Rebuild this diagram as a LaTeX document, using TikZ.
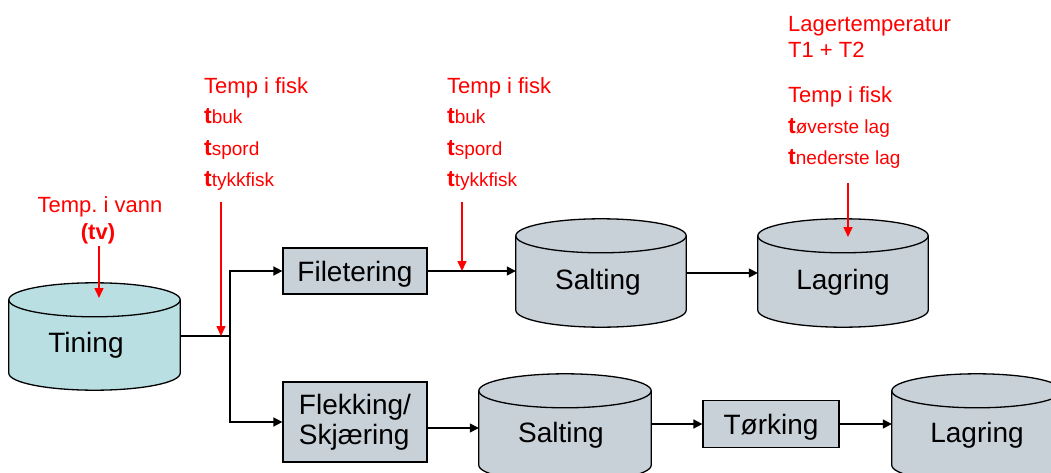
\documentclass[tikz,border=0pt]{standalone}
\usepackage{fontspec}
\setmainfont{Liberation Sans}
\usetikzlibrary{arrows.meta,calc}
\pgfdeclarelayer{background}
\pgfsetlayers{background,main}
\definecolor{boxgray}{RGB}{200,208,216}
\definecolor{tincyan}{RGB}{185,223,227}
\newcommand\cylshape[2]{%
  \path[draw=black,line width=1.3pt,fill=#2]
    let \p1=(#1.north west), \p2=(#1.south east), \n1={(\x2-\x1)/2} in
    (\x1,\y1-17pt) -- (\x1,\y2+17pt)
    arc[start angle=180,end angle=360,x radius=\n1,y radius=17pt]
    -- (\x2,\y1-17pt)
    arc[start angle=0,end angle=180,x radius=\n1,y radius=17pt] -- cycle;
  \path[draw=black,line width=1.3pt]
    let \p1=(#1.north west), \p2=(#1.south east), \n1={(\x2-\x1)/2} in
    (\x2,\y1-17pt)
    arc[start angle=0,end angle=-180,x radius=\n1,y radius=17pt];
}
\newcommand\tb{{\fontsize{23}{26}\selectfont\bfseries t}}
\newcommand\sm[1]{{\fontsize{19}{22}\selectfont #1}}
\begin{document}
\begin{tikzpicture}[x=1pt,y=-1pt,
  cylnode/.style={inner sep=0pt,font=\fontsize{28}{30}\selectfont,text depth=0pt},
  procbox/.style={draw=black,line width=1.2pt,fill=boxgray,inner sep=0pt,font=\fontsize{28}{30}\selectfont},
  conn/.style={line width=1.5pt,-{Triangle[length=9pt,width=9pt]}},
  plain/.style={line width=1.5pt},
  redarr/.style={red,line width=1.5pt,-{Triangle[length=10pt,width=9pt]}},
  redtxt/.style={text=red,anchor=base west,inner sep=0pt,font=\fontsize{22}{26}\selectfont},
  redc/.style={text=red,anchor=base,inner sep=0pt,font=\fontsize{22}{26}\selectfont}]
\useasboundingbox (0,0) rectangle (1051,473);

% cylinders (invisible frames carrying the text)
\node[cylnode,minimum width=171pt,minimum height=107pt,text height=31pt] (tin) at (94.5,336.5) {Tining\hspace*{17pt}};
\node[cylnode,minimum width=170pt,minimum height=108pt,text height=32pt] (sal1) at (601,273) {Salting\hspace*{6pt}};
\node[cylnode,minimum width=170pt,minimum height=108pt,text height=32pt] (lag1) at (843,273) {Lagring};
\node[cylnode,minimum width=172pt,minimum height=108pt,text height=28pt] (sal2) at (565,428) {Salting\hspace*{8pt}};
\node[cylnode,minimum width=170pt,minimum height=108pt,text height=28pt] (lag2) at (977,428) {Lagring};

% process boxes
\node[procbox,minimum width=144pt,minimum height=46pt,text height=20pt,text depth=0pt] (fil) at (355,271) {Filetering};
\node[procbox,minimum width=144pt,minimum height=80pt,align=left] (fle) at (355,422) {Flekking/\\Skjæring};
\node[procbox,minimum width=136pt,minimum height=47pt,text height=20pt,text depth=0pt] (tor) at (771,424) {Tørking};

\begin{pgfonlayer}{background}
\cylshape{tin}{tincyan}
\cylshape{sal1}{boxgray}
\cylshape{lag1}{boxgray}
\cylshape{sal2}{boxgray}
\cylshape{lag2}{boxgray}
\end{pgfonlayer}

% connectors
\coordinate (jn) at (230,336);
\draw[plain] (tin.east |- jn) -- (jn);
\draw[conn] (jn) |- (fil.west);
\draw[conn] (jn) |- (fle.west);
\draw[conn] (fil.east) -- (fil.east -| sal1.west);
\draw[conn] (sal1.east) -- (lag1.west);
\draw[conn] (fle.east |- sal2.west) -- (sal2.west);
\draw[conn] (sal2.east |- tor.west) -- (tor.west);
\draw[conn] (tor.east) -- (tor.east -| lag2.west);

% red labels
\node[redc] (tv1) at (100,212) {Temp.\ i vann};
\node[redc,font=\fontsize{22}{26}\selectfont\bfseries] (tv2) at (98,239) {(tv)};

\node[redtxt] (a1) at (204,94) {Temp i fisk};
\node[redtxt] (a2) at (204,124) {\tb\sm{buk}};
\node[redtxt] (a3) at (204,156) {\tb\sm{spord}};
\node[redtxt] (a4) at (204,186) {\tb\sm{tykkfisk}};

\node[redtxt] (b1) at (447,94) {Temp i fisk};
\node[redtxt] (b2) at (447,124) {\tb\sm{buk}};
\node[redtxt] (b3) at (447,156) {\tb\sm{spord}};
\node[redtxt] (b4) at (447,186) {\tb\sm{tykkfisk}};

\node[redtxt] (c1) at (788,32) {Lagertemperatur};
\node[redtxt] (c2) at (788,58) {T1 + T2};
\node[redtxt] (c3) at (788,103) {Temp i fisk};
\node[redtxt] (c4) at (788,134) {\tb\sm{øverste lag}};
\node[redtxt] (c5) at (788,165) {\tb\sm{nederste lag}};

% red arrows
\coordinate (r0s) at (99,246);
\coordinate (r0e) at (99,298);
\draw[redarr] (r0s) -- (r0e);
\coordinate (r1s) at (221,202);
\draw[redarr] (r1s) -- (r1s |- jn);
\coordinate (r2s) at (462,202);
\draw[redarr] (r2s) -- (r2s |- fil.east);
\coordinate (r3s) at (848,183);
\coordinate (r3e) at (848,237);
\draw[redarr] (r3s) -- (r3e);
\end{tikzpicture}
\end{document}
